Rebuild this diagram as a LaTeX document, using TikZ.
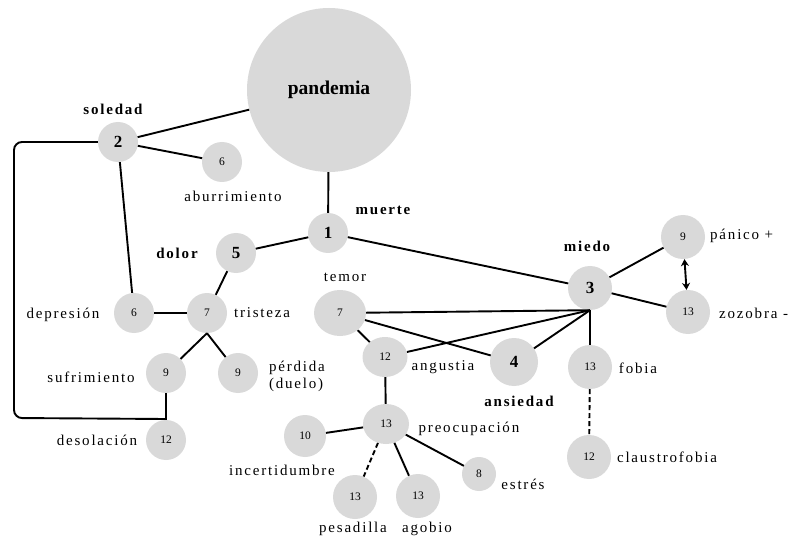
\documentclass[tikz,border=0pt]{standalone}
\usepackage{fontspec}
\setmainfont{Liberation Serif}
\newfontfamily\labfont[LetterSpace=12]{Liberation Serif}
\usetikzlibrary{shapes.geometric,arrows.meta}
\definecolor{bubgray}{RGB}{217,217,217}
\begin{document}
\begin{tikzpicture}[x=1pt,y=-1pt,
  bub/.style={circle,fill=bubgray,inner sep=0pt,minimum size=#1,font=\fontsize{11.5}{12}\selectfont},
  bub/.default=40pt,
  bbub/.style={circle,fill=bubgray,inner sep=0pt,minimum size=#1,font=\fontsize{17}{18}\selectfont\bfseries},
  bbub/.default=40pt,
  ebub/.style={ellipse,fill=bubgray,inner sep=0pt,minimum width=#1,font=\fontsize{11.5}{12}\selectfont},
  lab/.style={inner sep=0pt,font=\labfont\fontsize{15}{17}\selectfont},
  blab/.style={inner sep=0pt,font=\labfont\fontsize{15}{17}\selectfont\bfseries},
  conn/.style={line width=1.9pt},
  dconn/.style={line width=1.9pt,dash pattern=on 5pt off 3pt}
]
\useasboundingbox (0,0) rectangle (790,540);
% nodes
\node[circle,fill=bubgray,inner sep=0pt,minimum size=164pt,font=\fontsize{19.5}{20}\selectfont\bfseries] (pan) at (329,90) {pandemia};
\node[bbub] (n1) at (328,233) {1};
\node[bbub] (n2) at (118,142) {2};
\node[bbub=44pt] (n3) at (590,288) {3};
\node[bbub=48pt] (n4) at (514,362) {4};
\node[bbub] (n5) at (236,253) {5};
\node[bub] (abu) at (222,162) {6};
\node[bub] (dep) at (134,313) {6};
\node[bub] (tri) at (207,313) {7};
\node[bub] (suf) at (166,373) {9};
\node[bub] (per) at (238,373) {9};
\node[bub] (des) at (166,440) {12};
\node[ebub=52pt,minimum height=46pt] (tem) at (340,313) {7};
\node[ebub=45pt,minimum height=40pt] (ang) at (385,357) {12};
\node[ebub=46pt,minimum height=40pt] (pre) at (386,424) {13};
\node[bub=42pt] (inc) at (305,436) {10};
\node[bub=44pt] (pes) at (355,497) {13};
\node[bub=44pt] (ago) at (418,496) {13};
\node[bub=34pt] (est) at (479,474) {8};
\node[bub=44pt] (pan9) at (683,237) {9};
\node[bub=44pt] (zoz) at (688,312) {13};
\node[bub=44pt] (fob) at (590,367) {13};
\node[bub=44pt] (cla) at (589,457) {12};
% labels
\node[blab] (lsol) at (113,109) {soledad};
\node[lab] (labu) at (233,196) {aburrimiento};
\node[blab] (ldol) at (177,253) {dolor};
\node[blab] (lmue) at (383,210) {muerte};
\node[blab] (lmie) at (587,246) {miedo};
\node[lab] (ltem) at (345,277) {temor};
\node[lab] (ldep) at (63,315) {depresión};
\node[lab] (ltri) at (262,313) {tristeza};
\node[lab] (lsuf) at (91,377) {sufrimiento};
\node[lab,align=left] (lper) at (297,376) {pérdida\\(duelo)};
\node[lab] (ldes) at (97,440) {desolación};
\node[lab] (lang) at (443,367) {angustia};
\node[blab] (lans) at (519,401) {ansiedad};
\node[lab] (lpre) at (469,429) {preocupación};
\node[lab] (linc) at (282,470) {incertidumbre};
\node[lab] (lpes) at (353,529) {pesadilla};
\node[lab] (lago) at (427,529) {agobio};
\node[lab] (lest) at (523,484) {estrés};
\node[lab] (lfob) at (638,368) {fobia};
\node[lab] (lcla) at (667,457) {claustrofobia};
\node[lab,anchor=west] (lpan) at (710,236) {pánico +};
\node[lab,anchor=west] (lzoz) at (719,313) {zozobra -};
% connectors
\coordinate (lc) at (14,418);
\coordinate (jn) at (166,419);
\draw[conn] (n2) -- (pan);
\draw[conn] (n2) -- (abu);
\draw[conn] (n2) -- (dep);
\draw[conn] (pan) -- (n1);
\draw[conn] (n1) -- (n5);
\draw[conn] (n1) -- (n3);
\draw[conn] (n5) -- (tri);
\draw[conn] (dep) -- (tri);
\draw[conn] (tri.south) -- (suf);
\draw[conn] (tri.south) -- (per);
\draw[conn] (suf) -- (des);
\draw[conn,rounded corners=8pt] (n2.west) -| (lc) -- (jn);
\draw[conn] (tem) -- (n3.south);
\draw[conn] (tem) -- (n4);
\draw[conn] (tem) -- (ang);
\draw[conn] (ang) -- (n3.south);
\draw[conn] (n4) -- (n3.south);
\draw[conn] (n3) -- (fob);
\draw[dconn] (fob) -- (cla);
\draw[conn] (n3) -- (pan9);
\draw[conn] (n3) -- (zoz);
\draw[conn,{Stealth[length=7pt,width=8pt]}-{Stealth[length=7pt,width=8pt]}] (pan9) -- (zoz);
\draw[conn] (ang) -- (pre);
\draw[conn] (pre) -- (inc);
\draw[dconn] (pre) -- (pes);
\draw[conn] (pre) -- (ago);
\draw[conn] (pre) -- (est);
\end{tikzpicture}
\end{document}
